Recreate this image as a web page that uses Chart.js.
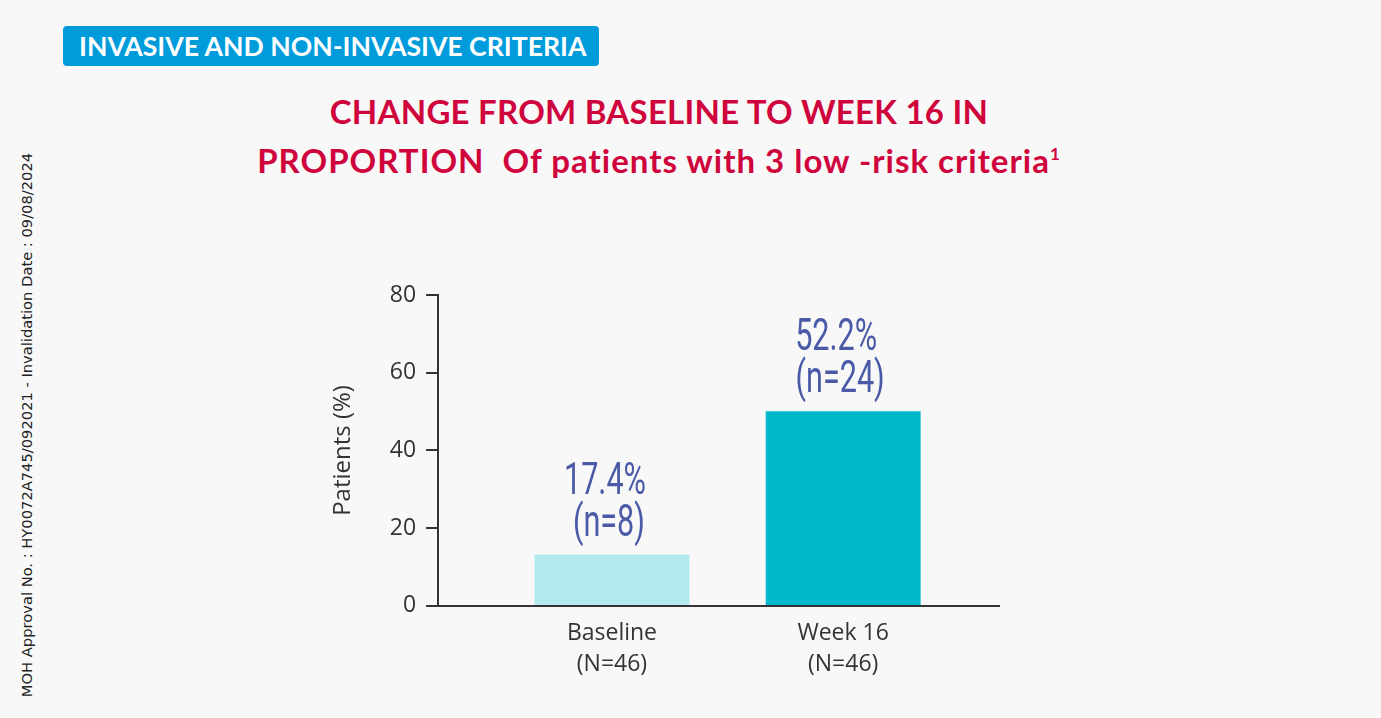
<!DOCTYPE html>
<html>
<head>
<meta charset="utf-8">
<script src="https://cdn.jsdelivr.net/npm/chart.js@4.4.0/dist/chart.umd.min.js"></script>
<style>
  html, body { margin: 0; padding: 0; background: #f8f8f8; }
  body { width: 1381px; height: 718px; position: relative; overflow: hidden; }
  .badge {
    position: absolute; left: 63px; top: 26px; width: 536px; height: 40px;
    background: #009bdb; border-radius: 4px; color: #fff;
    font: 700 26.6px Lato, sans-serif; line-height: 41px; padding-left: 16px; box-sizing: border-box;
    white-space: nowrap;
  }
  .title {
    position: absolute; left: 0; top: 87px; width: 1318px; text-align: center;
    color: #d0043c; font: 700 33px Lato, sans-serif; line-height: 49px; white-space: nowrap;
  }
  .title .l1 { letter-spacing: 0.25px; }
  .title .l2 { letter-spacing: 1px; }
  .title sup { font-size: 17px; vertical-align: 13px; line-height: 0; }
  .side {
    position: absolute; left: 26px; top: 425px; white-space: nowrap;
    transform: translate(-50%, -50%) rotate(-90deg);
    font: 14.7px "DejaVu Sans", sans-serif; color: #222;
  }
  #chart { position: absolute; left: 0; top: 0; }
</style>
</head>
<body>
<div class="badge">INVASIVE AND NON-INVASIVE CRITERIA</div>
<div class="title"><span class="l1">CHANGE FROM BASELINE TO WEEK 16 IN</span><br><span class="l2">PROPORTION&nbsp; Of patients with 3 low -risk criteria<sup>1</sup></span></div>
<div class="side">MOH Approval No. : HY0072A745/092021 - Invalidation Date : 09/08/2024</div>
<canvas id="chart" width="1381" height="718"></canvas>
<script>
const categories = [["Baseline", "(N=46)"], ["Week 16", "(N=46)"]];
const barValues = [13.2, 50.1];
const pctLabels = ["17.4%", "52.2%"];
const countLabels = ["(n=8)", "(n=24)"];
const barColors = ["#b3eaf0", "#00b8cc"];
const yTicks = [0, 20, 40, 60, 80];

// two-line value labels over each bar, drawn in a narrow face
const barLabels = {
    id: "barLabels",
    afterDatasetsDraw(chart) {
        let ctx = chart.ctx;
        let bars = chart.getDatasetMeta(0).data;
        ctx.save();
        ctx.fillStyle = "#4b5aa6";
        ctx.font = "400 45px Roboto, sans-serif";
        ctx.textAlign = "center";
        ctx.textBaseline = "alphabetic";
        bars.forEach((bar, i) => {
            let lines = [[pctLabels[i], bar.y - 61, -7], [countLabels[i], bar.y - 19, -3]];
            lines.forEach(([txt, y, dx]) => {
                ctx.save();
                ctx.translate(bar.x + dx, y);
                ctx.scale(0.68, 1);
                ctx.fillText(txt, 0, 0);
                ctx.restore();
            });
        });
        ctx.restore();
    }
};

let ctx = document.getElementById("chart").getContext("2d");

new Chart(ctx, {
    type: "bar",
    data: {
        datasets: [{
            data: barValues.map((v, i) => ({ x: i, y: v })),
            backgroundColor: barColors,
            borderWidth: 0,
            categoryPercentage: 1,
            barPercentage: 0.67
        }]
    },
    options: {
        responsive: false,
        animation: false,
        layout: { padding: { left: 320, top: 295, right: 382, bottom: 26 } },
        plugins: { legend: { display: false }, tooltip: { enabled: false } },
        scales: {
            x: {
                type: "linear",
                offset: false,
                min: -0.752,
                max: 1.674,
                afterBuildTicks: (scale) => { scale.ticks = categories.map((c, i) => ({ value: i })); },
                grid: { display: false, drawTicks: false, offset: false },
                border: { color: "#333", width: 2 },
                ticks: {
                    callback: (v) => categories[v],
                    color: "#333",
                    font: { family: "'Open Sans'", size: 23, lineHeight: 1.35 },
                    padding: 12,
                    maxRotation: 0,
                    autoSkip: false
                }
            },
            y: {
                min: 0,
                max: 80,
                afterBuildTicks: (scale) => { scale.ticks = yTicks.map(v => ({ value: v })); },
                grid: { drawOnChartArea: false, tickLength: 12, color: "#333", lineWidth: 2 },
                border: { color: "#333", width: 2 },
                ticks: {
                    color: "#333",
                    font: { family: "'Open Sans'", size: 23 },
                    padding: 10
                },
                title: {
                    display: true,
                    text: "Patients (%)",
                    color: "#333",
                    font: { family: "'Open Sans'", size: 24 },
                    padding: { top: 9, bottom: 22 }
                }
            }
        }
    },
    plugins: [barLabels]
});
</script>
</body>
</html>
